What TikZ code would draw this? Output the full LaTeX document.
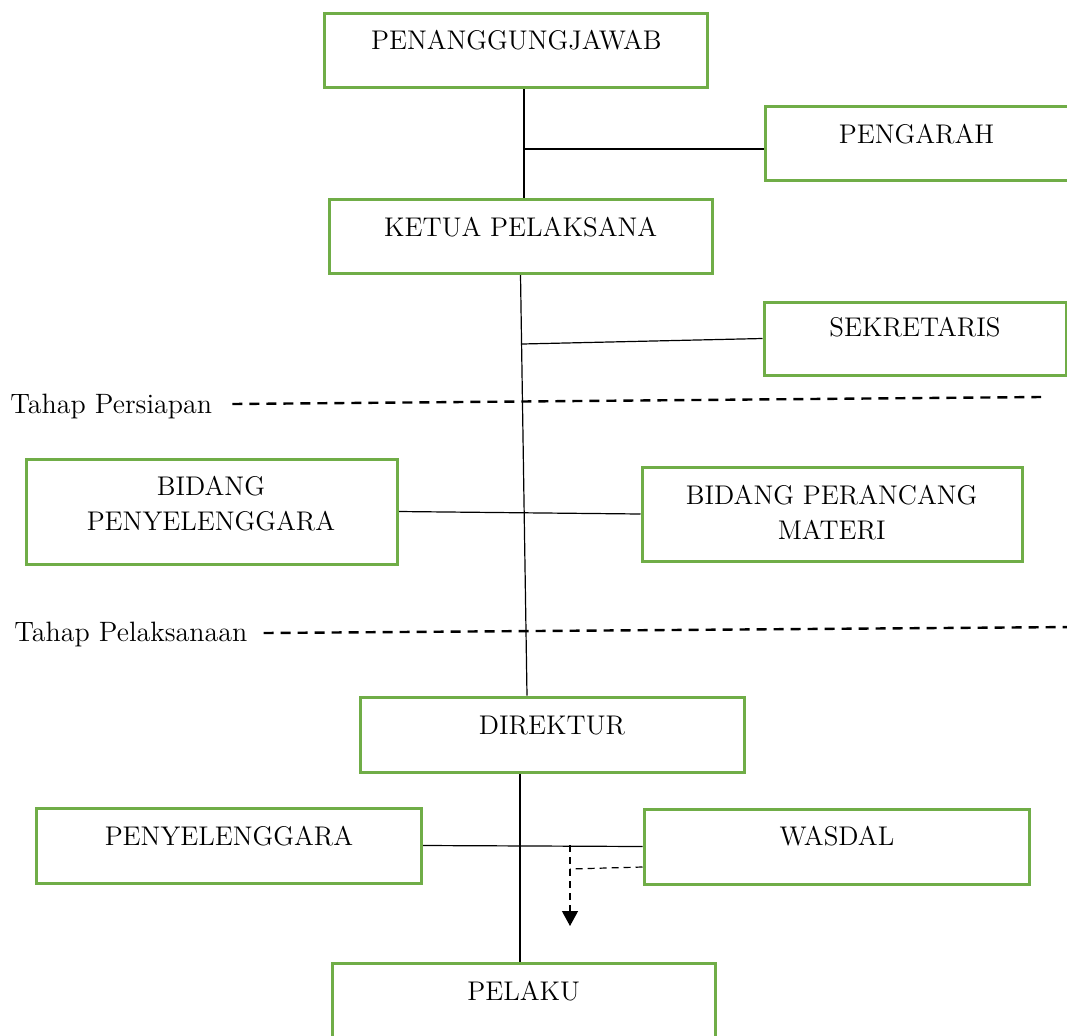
\documentclass[tikz,border=0pt]{standalone}
\usepackage{tikz}
\usetikzlibrary{arrows.meta, backgrounds}
\definecolor{boxgreen}{HTML}{70AD47}

\begin{document}
\begin{tikzpicture}[x=0.5pt, y=-0.5pt, >={Triangle[width=8pt, length=7.5pt]},
      box/.style={draw=boxgreen, line width=1.5pt, inner sep=0pt},
      lbl/.style={font=\fontsize{13.5pt}{17.3pt}\selectfont, inner sep=0pt, align=center},
      tahap/.style={font=\fontsize{14pt}{17pt}\selectfont, inner sep=0pt, anchor=base west},
      conn/.style={line width=0.6pt},
      phase/.style={line width=1.2pt, dash pattern=on 5pt off 3.5pt},
      hint/.style={line width=0.6pt, dash pattern=on 3.5pt off 2.5pt}]

    \useasboundingbox (0,0) rectangle (1067,1035);

    % boxes of the structure
    \node[box, minimum width=191.5pt, minimum height=37pt]   (pj)         at (516.3,50.3)  {};
    \node[box, minimum width=152.5pt, minimum height=36.7pt] (pengarah)   at (917.5,143.3) {};
    \node[box, minimum width=191.5pt, minimum height=37pt]   (ketua)      at (520.5,236)   {};
    \node[box, minimum width=151pt,   minimum height=36.5pt] (sekretaris) at (915,338.5)   {};
    \node[box, minimum width=185.5pt, minimum height=52.5pt] (bidpen)     at (211.5,511.5) {};
    \node[box, minimum width=190pt,   minimum height=47pt]   (bidmat)     at (832,514)     {};
    \node[box, minimum width=192pt,   minimum height=37.5pt] (direktur)   at (552,734.5)   {};
    \node[box, minimum width=192.5pt, minimum height=37.5pt] (penyel)     at (228.5,845.5) {};
    \node[box, minimum width=192.5pt, minimum height=37.5pt] (wasdal)     at (836.5,846.5) {};
    \node[box, minimum width=191.5pt, minimum height=38.5pt] (pelaku)     at (523.5,1001.5) {};

    % texts, set in the upper part of each box
    \node[lbl, anchor=base] (pjT)         at (516.3,49.5) {PENANGGUNGJAWAB};
    \node[lbl, anchor=base] (pengarahT)   at (916.5,143)  {PENGARAH};
    \node[lbl, anchor=base] (ketuaT)      at (520.7,236)  {KETUA PELAKSANA};
    \node[lbl, anchor=base] (sekretarisT) at (915,336)    {SEKRETARIS};
    \node[lbl]              (bidpenT)     at (211,503.5)  {BIDANG\\PENYELENGGARA};
    \node[lbl]              (bidmatT)     at (831.7,512.4) {BIDANG PERANCANG\\MATERI};
    \node[lbl, anchor=base] (direkturT)   at (552,734)    {DIREKTUR};
    \node[lbl, anchor=base] (penyelT)     at (229,845)    {PENYELENGGARA};
    \node[lbl, anchor=base] (wasdalT)     at (837,845)    {WASDAL};
    \node[lbl, anchor=base] (pelakuT)     at (523.7,1000) {PELAKU};

    % phase labels
    \node[tahap] (persiapan)   at (10,413) {Tahap Persiapan};
    \node[tahap] (pelaksanaan) at (14,641) {Tahap Pelaksanaan};

    \coordinate (jPengarah)      at (524,149);
    \coordinate (jSekretaris)    at (522,344);
    \coordinate (jWasdal)        at (570,845);
    \coordinate (jHint)          at (570,869);
    \coordinate (hintTip)        at (570,926);
    \coordinate (persiapanEnd)   at (1041,397);
    \coordinate (pelaksanaanEnd) at (1075,627);

    \begin{scope}[on background layer]
    \draw[conn] (pj.south -| jPengarah) -- (ketua.north -| jPengarah);
    \draw[conn] (jPengarah) -- (pengarah.west |- jPengarah);
    \draw[conn] (ketua.south) -- ([xshift=-12.5pt]direktur.north);
    \draw[conn] (jSekretaris) -- (sekretaris.west);
    \draw[conn] (bidpen.east) -- (bidmat.west);
    \draw[conn] ([xshift=-16pt]direktur.south) -- ([xshift=-16pt]direktur.south |- pelaku.north);
    \draw[conn] (penyel.east) -- (wasdal.west);

    % dashed hint from WASDAL
    \draw[hint] ([yshift=-10.25pt]wasdal.west) -- (jHint);
    \draw[hint, ->] (jWasdal) -- (hintTip);

    % phase separators
    \draw[phase] ([xshift=10pt, yshift=4.5pt]persiapan.base east) -- (persiapanEnd);
    \draw[phase] ([xshift=8pt, yshift=4pt]pelaksanaan.base east) -- (pelaksanaanEnd);
    \end{scope}

\end{tikzpicture}
\end{document}
